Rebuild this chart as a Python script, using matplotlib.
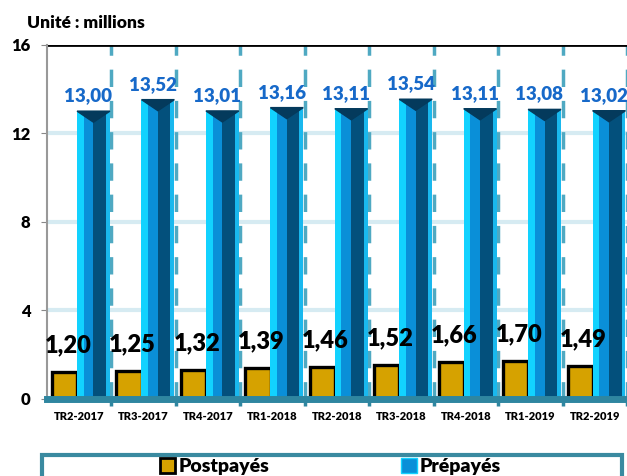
import matplotlib.pyplot as plt
from matplotlib.patches import Rectangle, Patch
import numpy as np

# Data
quarters = ['TR2-2017', 'TR3-2017', 'TR4-2017', 'TR1-2018', 'TR2-2018',
            'TR3-2018', 'TR4-2018', 'TR1-2019', 'TR2-2019']
postpaid = [1.20, 1.25, 1.32, 1.39, 1.46, 1.52, 1.66, 1.70, 1.49]
prepaid = [13.00, 13.52, 13.01, 13.16, 13.11, 13.54, 13.11, 13.08, 13.02]

plt.rcParams['font.family'] = ['Lato', 'DejaVu Sans']
plt.rcParams['font.weight'] = 'bold'

fig = plt.figure(figsize=(6.27, 4.76), dpi=100)
ax = fig.add_axes([0.075, 0.162, 0.925, 0.744])

x = np.arange(len(quarters))
post_w = 0.39
pre_w = 0.51
post_x = x - 0.5 + 0.078 + post_w / 2
pre_x = x - 0.5 + 0.466 + pre_w / 2

# grid lines
for v in [4, 8, 12]:
    ax.axhline(v, color='#d6ebf2', lw=3, zorder=0)
ax.axhline(16, color='black', lw=2, zorder=1)
for b in np.append(x[:-1] + 0.5, 8.5):
    ax.axvline(b, color='#4fa9c2', lw=2.5, ls=(0, (5, 4)), zorder=0.5)

# postpaid bars (gold with black border)
ax.bar(post_x, postpaid, width=post_w, color='#d6a200', edgecolor='black',
       linewidth=2.4, zorder=3)

# prepaid bars with a bevelled look
left_x = pre_x - pre_w / 2
ax.bar(pre_x, prepaid, width=pre_w, color='#0a8fd8', zorder=3)
ax.bar(left_x, prepaid, width=pre_w * 0.2, align='edge', color='#12d2ff', zorder=4)
ax.bar(left_x + pre_w * 0.5, prepaid, width=pre_w * 0.38, align='edge',
       color='#03507c', zorder=4)
ax.bar(left_x + pre_w * 0.88, prepaid, width=pre_w * 0.12, align='edge',
       color='#19b8ee', zorder=4)
for xi, v in zip(pre_x, prepaid):
    ax.fill([xi - pre_w / 2, xi + pre_w / 2, xi], [v, v, v - 0.5],
            color='#043a5c', zorder=5)

# value labels
for xi, v in zip(post_x, postpaid):
    ax.text(xi + 0.05, v + 1.2, f'{v:.2f}'.replace('.', ','), ha='center',
            va='center', fontsize=17, fontweight='heavy', color='black', zorder=6)
for xi, v in zip(pre_x, prepaid):
    ax.text(xi - 0.08, v + 0.7, f'{v:.2f}'.replace('.', ','), ha='center',
            va='center', fontsize=13.5, fontweight='heavy', color='#1769c9', zorder=6)

ax.set_xlim(-0.5, 8.5)
ax.set_ylim(0, 16)
ax.set_yticks([0, 4, 8, 12, 16])
ax.set_yticklabels(['0', '4', '8', '12', '16'], fontsize=12, fontweight='heavy')
ax.set_xticks(x)
ax.set_xticklabels(quarters, fontsize=8, fontweight='heavy')
ax.set_xticks(np.append(x[:-1] + 0.5, 8.5), minor=True)
ax.tick_params(axis='x', which='major', length=0, pad=9)
ax.tick_params(axis='x', which='minor', length=5, width=2.5, color='#2f86a0')
ax.tick_params(axis='y', length=4, color='#888888', pad=8)

for s in ['top', 'right']:
    ax.spines[s].set_visible(False)
ax.spines['left'].set_color('#999999')
ax.spines['left'].set_linewidth(1.5)
ax.spines['bottom'].set_color('#2f86a0')
ax.spines['bottom'].set_linewidth(5)
ax.spines['bottom'].set_zorder(7)

fig.text(0.043, 0.952, 'Unité : millions', fontsize=12.5, fontweight='heavy',
         ha='left', va='center')

# legend box (cut at the bottom edge like the original)
box = Rectangle((42 / 627, -0.05), 580 / 627, 0.05 + 21 / 476,
                transform=fig.transFigure, facecolor='white',
                edgecolor='#3a8aa0', linewidth=3, clip_on=False)
fig.add_artist(box)
handles = [Patch(facecolor='#d6a200', edgecolor='black', linewidth=2),
           Patch(facecolor='#0a8fd8', edgecolor='#12d2ff', linewidth=1)]
fig.legend(handles, ['Postpayés', 'Prépayés'], ncol=2, frameon=False,
           loc='center', bbox_to_anchor=(0.527, 0.02),
           prop={'weight': 'heavy', 'size': 14}, handlelength=0.8,
           handleheight=0.8, handletextpad=0.15, columnspacing=6.8,
           borderpad=0)

fig.savefig('out.png', dpi=100)
